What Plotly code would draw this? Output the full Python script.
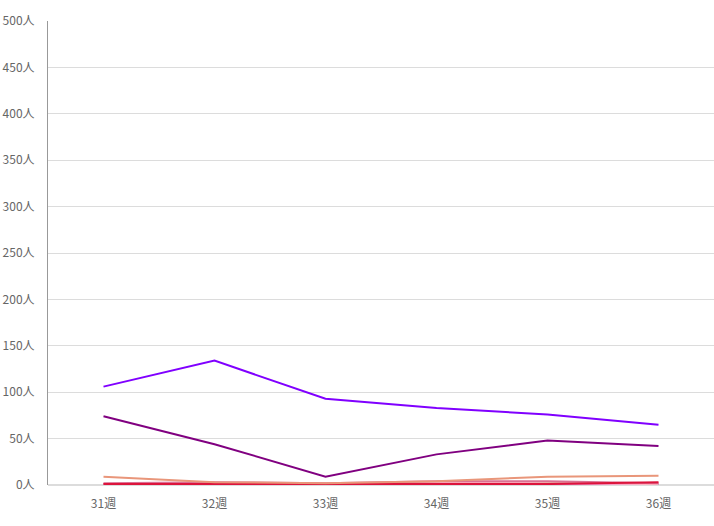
import plotly.graph_objects as go

weeks = ["31週", "32週", "33週", "34週", "35週", "36週"]

s_violet = [106, 134, 93, 83, 76, 65]
s_purple = [74, 44, 9, 33, 48, 42]
s_salmon = [9, 3, 2, 4, 9, 10]
s_pvr = [2, 3, 2, 4, 4, 2]
s_pink = [1, 2, 1, 3, 2, 1]
s_crimson = [1, 1, 1, 1, 1, 3]
s_orchid = [1, 2, 1, 2, 1, 1]
s_sky = [0, 0, 0, 1, 1, 0]
s_ygreen = [0, 0, 0, 1, 2, 0]
s_gray = [0, 0, 0, 0, 0, 0]

series = [
    ("A", s_gray, "#708090"),
    ("B", s_ygreen, "#9acd32"),
    ("C", s_sky, "#00bfff"),
    ("D", s_orchid, "#da70d6"),
    ("E", s_pink, "#ffb6c1"),
    ("F", s_pvr, "#db7093"),
    ("G", s_crimson, "#dc143c"),
    ("H", s_salmon, "#e9967a"),
    ("I", s_purple, "#800080"),
    ("J", s_violet, "#8000ff"),
]

fig = go.Figure()
for name, vals, col in series:
    fig.add_trace(go.Scatter(x=weeks, y=vals, name=name, mode="lines",
                             line=dict(color=col, width=2), showlegend=False))

fig.update_layout(
    width=714, height=526,
    margin=dict(l=48, r=0, t=21, b=41),
    plot_bgcolor="white", paper_bgcolor="white",
    font=dict(family="Noto Sans CJK JP, sans-serif", size=12, color="#666"),
)
fig.update_xaxes(type="category", range=[-0.5, 5.5], showgrid=False,
                 showline=False, zeroline=False, ticks="", ticklabelstandoff=10,
                 automargin=False)
fig.update_yaxes(range=[0, 500], dtick=50, ticksuffix="人", showgrid=True,
                 gridcolor="#dcdcdc", gridwidth=1, zeroline=True, zerolinecolor="#dcdcdc",
                 showline=True, linecolor="#999", linewidth=1, ticks="",
                 ticklabelstandoff=10, automargin=False)

fig.write_html("out.html", config={"displayModeBar": False},
               post_script="document.body.style.margin='0';document.body.style.overflow='hidden';")
